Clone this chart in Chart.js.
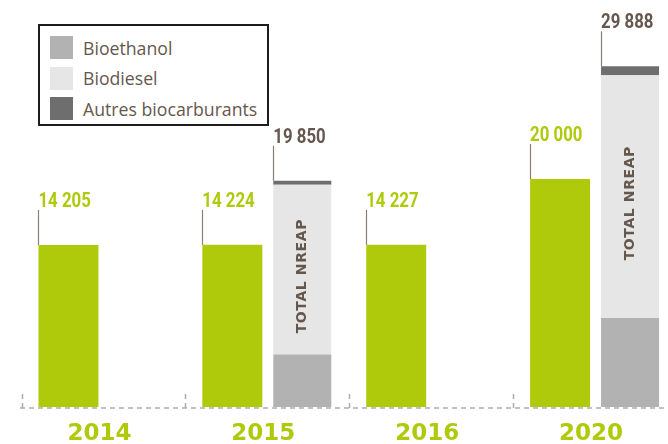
<!DOCTYPE html>
<html>
<head>
<meta charset="utf-8">
<script src="https://cdn.jsdelivr.net/npm/chart.js@4/dist/chart.umd.min.js"></script>
<style>
  body { margin: 0; background: #fff; overflow: hidden; }
  #wrap { position: relative; width: 668px; height: 444px; overflow: hidden; }
  #myChart { position: absolute; left: 0; top: 0; }
  #legend {
    position: absolute; left: 38px; top: 24px; width: 231px; height: 102px;
    box-sizing: border-box; border: 2px solid #1d1d1d; background: #fff;
    font-family: 'Open Sans', sans-serif; font-size: 17.7px; color: #65574d;
  }
  .row { position: absolute; left: 10px; height: 23px; display: flex; align-items: center; }
  .sw { width: 23px; height: 23px; margin-right: 10px; }
</style>
</head>
<body>
<div id="wrap">
  <canvas id="myChart" width="680" height="444"></canvas>
  <div id="legend"></div>
</div>
<script>
const years = ['2014', '2015', '2016', '2020']
const consumption = [14205, 14224, 14227, 20000]
const bioethanol = [null, 4600, null, 7800]
const biodiesel = [null, 14900, null, 21300]
const autres = [null, 350, null, 788]
const nreapTotal = [null, 19850, null, 29888]
const nreapText = 'TOTAL NREAP'

const green = '#afca0b'
const brown = '#65574d'

const fmt = (v) => String(v).replace(/\B(?=(\d{3})+(?!\d))/g, ' ')

const overlay = {
  id: 'overlay',
  afterDatasetsDraw(chart) {
    const ctx = chart.ctx
    const x = chart.scales.x
    const y = chart.scales.y
    const base = y.getPixelForValue(0) + 1
    const step = x.getPixelForValue(1) - x.getPixelForValue(0)

    ctx.save()
    // dashed baseline and group ticks
    ctx.strokeStyle = '#adadad'
    ctx.lineWidth = 1.5
    ctx.setLineDash([5, 4])
    ctx.beginPath()
    ctx.moveTo(20, base)
    ctx.lineTo(680, base)
    years.forEach((yr, i) => {
      const bx = Math.round(x.getPixelForValue(i) - step / 2) + 0.5
      ctx.moveTo(bx, base)
      ctx.lineTo(bx, base - 15)
    })
    ctx.stroke()
    ctx.setLineDash([])

    const drawLabel = (bar, text, color) => {
      const left = bar.x - bar.width / 2
      ctx.strokeStyle = '#8a7f78'
      ctx.lineWidth = 1.2
      ctx.beginPath()
      ctx.moveTo(Math.round(left) + 0.5, bar.y - 35)
      ctx.lineTo(Math.round(left) + 0.5, bar.y)
      ctx.stroke()
      ctx.save()
      ctx.fillStyle = color
      ctx.font = "bold 20px Roboto, sans-serif"
      ctx.textAlign = 'left'
      ctx.textBaseline = 'alphabetic'
      ctx.translate(left, bar.y - 38)
      ctx.scale(0.84, 1)
      ctx.fillText(text, 0, 0)
      ctx.restore()
    }

    const greenMeta = chart.getDatasetMeta(0)
    const topMeta = chart.getDatasetMeta(3)
    const midMeta = chart.getDatasetMeta(2)
    consumption.forEach((v, i) => drawLabel(greenMeta.data[i], fmt(v), green))
    nreapTotal.forEach((v, i) => {
      if (v === null) return
      drawLabel(topMeta.data[i], fmt(v), brown)
      const mid = midMeta.data[i]
      ctx.save()
      ctx.translate(mid.x + 4, (mid.y + mid.base) / 2 + 6.5)
      ctx.rotate(-Math.PI / 2)
      ctx.fillStyle = brown
      ctx.font = "bold 14px 'DejaVu Sans', sans-serif"
      ctx.letterSpacing = '0.6px'
      ctx.textAlign = 'center'
      ctx.textBaseline = 'alphabetic'
      ctx.fillText(nreapText, 0, 0)
      ctx.restore()
    })

    // year labels
    ctx.fillStyle = green
    ctx.font = "bold 23px 'DejaVu Sans', sans-serif"
    ctx.textAlign = 'center'
    ctx.textBaseline = 'alphabetic'
    years.forEach((yr, i) => ctx.fillText(yr, x.getPixelForValue(i) - 4, 440))
    ctx.restore()
  }
}

const shared = { categoryPercentage: 0.854, borderWidth: 0 }

const config = {
  type: 'bar',
  data: {
    labels: years,
    datasets: [
      { label: 'Consommation', data: consumption, backgroundColor: green, stack: 'real', barPercentage: 0.857, ...shared },
      { label: 'Bioethanol', data: bioethanol, backgroundColor: '#b2b2b2', stack: 'nreap', barPercentage: 0.829, ...shared },
      { label: 'Biodiesel', data: biodiesel, backgroundColor: '#e6e6e6', stack: 'nreap', barPercentage: 0.829, ...shared },
      { label: 'Autres biocarburants', data: autres, backgroundColor: '#6e6e6e', stack: 'nreap', barPercentage: 0.829, ...shared }
    ]
  },
  options: {
    responsive: false,
    animation: false,
    devicePixelRatio: 1,
    layout: { padding: { left: 21.5, right: 3, top: 8, bottom: 37 } },
    scales: {
      x: { display: false, stacked: true },
      y: { display: false, stacked: true, min: 0, max: 35000 }
    },
    plugins: {
      legend: { display: false },
      tooltip: { enabled: false }
    }
  },
  plugins: [overlay]
}

const myChart = new Chart(document.getElementById('myChart'), config)

// legend box from the stacked datasets
const legend = document.getElementById('legend')
myChart.data.datasets.slice(1).forEach((ds, i) => {
  const row = document.createElement('div')
  row.className = 'row'
  row.style.top = (10 + i * 30.5) + 'px'
  row.innerHTML = `<span class="sw" style="background:${ds.backgroundColor}"></span><span>${ds.label}</span>`
  legend.append(row)
})
</script>
</body>
</html>
